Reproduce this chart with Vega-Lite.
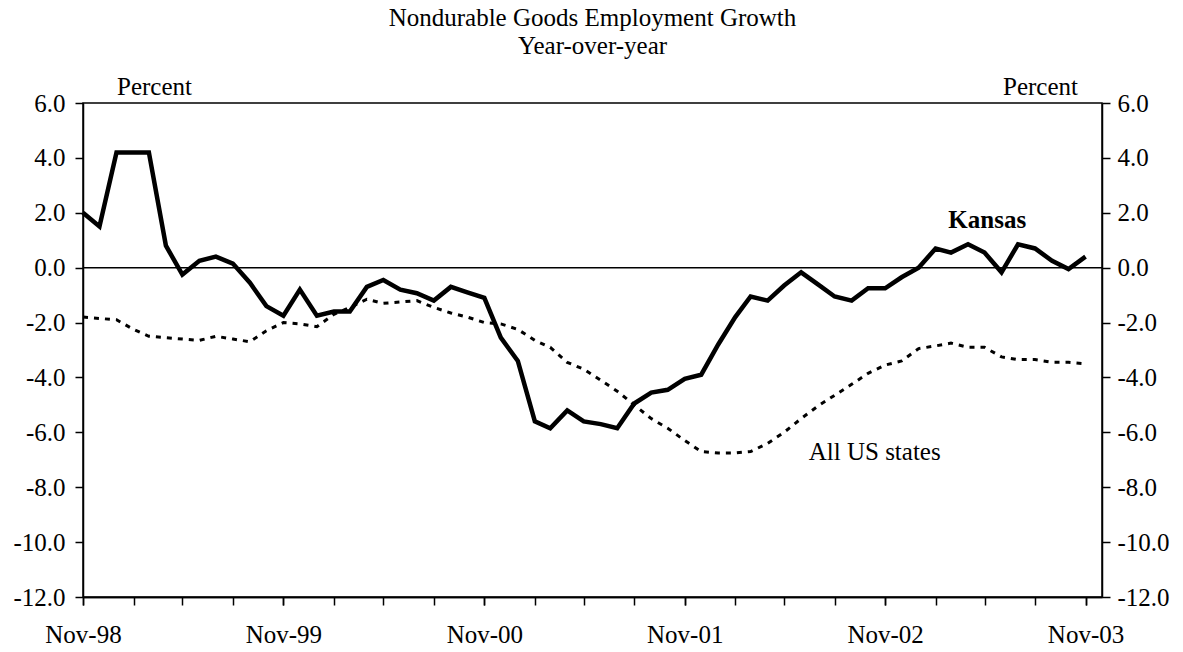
{
  "$schema": "https://vega.github.io/schema/vega-lite/v6.json",
  "width": 1019,
  "height": 494,
  "autosize": {"type": "none"},
  "padding": {"left": 83, "top": 103, "right": 81, "bottom": 55},
  "background": "white",
  "title": {
    "text": "Nondurable Goods Employment Growth",
    "subtitle": "Year-over-year",
    "font": "Liberation Serif",
    "subtitleFont": "Liberation Serif",
    "fontSize": 25,
    "subtitleFontSize": 25,
    "fontWeight": "normal",
    "color": "black",
    "subtitleColor": "black",
    "anchor": "middle",
    "offset": 15,
    "subtitlePadding": 3
  },
  "config": {
    "locale": {
      "number": {"decimal": ".", "thousands": ",", "grouping": [3], "currency": ["$", ""], "minus": "-"}
    },
    "view": {"stroke": "black", "strokeWidth": 1.5},
    "axis": {
      "domainColor": "black",
      "domainWidth": 1.5,
      "tickColor": "black",
      "tickWidth": 1.5,
      "tickSize": 8,
      "grid": false,
      "labelFont": "Liberation Serif",
      "labelFontSize": 25,
      "labelColor": "black",
      "titleFont": "Liberation Serif",
      "titleFontSize": 25,
      "titleFontWeight": "normal",
      "titleColor": "black"
    }
  },
  "datasets": {
    "series": [
      {"month": "1998-11-01", "Kansas": 2.0, "US": -1.8},
      {"month": "1998-12-01", "Kansas": 1.5, "US": -1.85},
      {"month": "1999-01-01", "Kansas": 4.2, "US": -1.9},
      {"month": "1999-02-01", "Kansas": 4.2, "US": -2.25},
      {"month": "1999-03-01", "Kansas": 4.2, "US": -2.5},
      {"month": "1999-04-01", "Kansas": 0.8, "US": -2.55},
      {"month": "1999-05-01", "Kansas": -0.25, "US": -2.6},
      {"month": "1999-06-01", "Kansas": 0.25, "US": -2.65},
      {"month": "1999-07-01", "Kansas": 0.4, "US": -2.5},
      {"month": "1999-08-01", "Kansas": 0.15, "US": -2.6},
      {"month": "1999-09-01", "Kansas": -0.55, "US": -2.7},
      {"month": "1999-10-01", "Kansas": -1.4, "US": -2.3},
      {"month": "1999-11-01", "Kansas": -1.75, "US": -2.0},
      {"month": "1999-12-01", "Kansas": -0.8, "US": -2.05},
      {"month": "2000-01-01", "Kansas": -1.75, "US": -2.15},
      {"month": "2000-02-01", "Kansas": -1.6, "US": -1.7},
      {"month": "2000-03-01", "Kansas": -1.6, "US": -1.45},
      {"month": "2000-04-01", "Kansas": -0.7, "US": -1.15},
      {"month": "2000-05-01", "Kansas": -0.45, "US": -1.3},
      {"month": "2000-06-01", "Kansas": -0.8, "US": -1.25},
      {"month": "2000-07-01", "Kansas": -0.93, "US": -1.2},
      {"month": "2000-08-01", "Kansas": -1.2, "US": -1.45},
      {"month": "2000-09-01", "Kansas": -0.7, "US": -1.65},
      {"month": "2000-10-01", "Kansas": -0.9, "US": -1.8},
      {"month": "2000-11-01", "Kansas": -1.1, "US": -2.0},
      {"month": "2000-12-01", "Kansas": -2.55, "US": -2.05},
      {"month": "2001-01-01", "Kansas": -3.4, "US": -2.25},
      {"month": "2001-02-01", "Kansas": -5.6, "US": -2.65},
      {"month": "2001-03-01", "Kansas": -5.85, "US": -2.9},
      {"month": "2001-04-01", "Kansas": -5.2, "US": -3.45},
      {"month": "2001-05-01", "Kansas": -5.6, "US": -3.7},
      {"month": "2001-06-01", "Kansas": -5.7, "US": -4.1},
      {"month": "2001-07-01", "Kansas": -5.85, "US": -4.5},
      {"month": "2001-08-01", "Kansas": -4.95, "US": -5.0},
      {"month": "2001-09-01", "Kansas": -4.55, "US": -5.5},
      {"month": "2001-10-01", "Kansas": -4.45, "US": -5.85},
      {"month": "2001-11-01", "Kansas": -4.05, "US": -6.3},
      {"month": "2001-12-01", "Kansas": -3.9, "US": -6.7},
      {"month": "2002-01-01", "Kansas": -2.8, "US": -6.75},
      {"month": "2002-02-01", "Kansas": -1.8, "US": -6.75},
      {"month": "2002-03-01", "Kansas": -1.05, "US": -6.7},
      {"month": "2002-04-01", "Kansas": -1.2, "US": -6.4},
      {"month": "2002-05-01", "Kansas": -0.65, "US": -6.0},
      {"month": "2002-06-01", "Kansas": -0.17, "US": -5.5},
      {"month": "2002-07-01", "Kansas": -0.6, "US": -5.05},
      {"month": "2002-08-01", "Kansas": -1.05, "US": -4.65},
      {"month": "2002-09-01", "Kansas": -1.2, "US": -4.25},
      {"month": "2002-10-01", "Kansas": -0.75, "US": -3.85},
      {"month": "2002-11-01", "Kansas": -0.75, "US": -3.55},
      {"month": "2002-12-01", "Kansas": -0.35, "US": -3.4},
      {"month": "2003-01-01", "Kansas": 0.0, "US": -2.95},
      {"month": "2003-02-01", "Kansas": 0.7, "US": -2.85},
      {"month": "2003-03-01", "Kansas": 0.55, "US": -2.75},
      {"month": "2003-04-01", "Kansas": 0.85, "US": -2.9},
      {"month": "2003-05-01", "Kansas": 0.55, "US": -2.9},
      {"month": "2003-06-01", "Kansas": -0.17, "US": -3.25},
      {"month": "2003-07-01", "Kansas": 0.85, "US": -3.35},
      {"month": "2003-08-01", "Kansas": 0.7, "US": -3.35},
      {"month": "2003-09-01", "Kansas": 0.25, "US": -3.45},
      {"month": "2003-10-01", "Kansas": -0.05, "US": -3.45},
      {"month": "2003-11-01", "Kansas": 0.4, "US": -3.5}
    ],
    "single": [{}]
  },
  "resolve": {"axis": {"x": "independent", "y": "independent"}},
  "layer": [
    {
      "data": {"name": "single"},
      "mark": {"type": "rule", "color": "black", "strokeWidth": 1.5},
      "encoding": {
        "y": {"datum": 0, "type": "quantitative", "axis": null}
      }
    },
    {
      "data": {"name": "series"},
      "mark": {"type": "line", "color": "black", "strokeWidth": 3, "strokeDash": [5, 6]},
      "encoding": {
        "x": {
          "field": "month",
          "type": "temporal",
          "axis": {
            "orient": "bottom",
            "values": [
              {"year": 1998, "month": 11, "date": 1, "utc": true},
              {"year": 1999, "month": 2, "date": 1, "utc": true},
              {"year": 1999, "month": 5, "date": 1, "utc": true},
              {"year": 1999, "month": 8, "date": 1, "utc": true},
              {"year": 1999, "month": 11, "date": 1, "utc": true},
              {"year": 2000, "month": 2, "date": 1, "utc": true},
              {"year": 2000, "month": 5, "date": 1, "utc": true},
              {"year": 2000, "month": 8, "date": 1, "utc": true},
              {"year": 2000, "month": 11, "date": 1, "utc": true},
              {"year": 2001, "month": 2, "date": 1, "utc": true},
              {"year": 2001, "month": 5, "date": 1, "utc": true},
              {"year": 2001, "month": 8, "date": 1, "utc": true},
              {"year": 2001, "month": 11, "date": 1, "utc": true},
              {"year": 2002, "month": 2, "date": 1, "utc": true},
              {"year": 2002, "month": 5, "date": 1, "utc": true},
              {"year": 2002, "month": 8, "date": 1, "utc": true},
              {"year": 2002, "month": 11, "date": 1, "utc": true},
              {"year": 2003, "month": 2, "date": 1, "utc": true},
              {"year": 2003, "month": 5, "date": 1, "utc": true},
              {"year": 2003, "month": 8, "date": 1, "utc": true},
              {"year": 2003, "month": 11, "date": 1, "utc": true}
            ],
            "labels": false,
            "title": null
          }
        },
        "y": {
          "field": "US",
          "type": "quantitative",
          "scale": {"domain": [-12, 6], "nice": false, "zero": false},
          "axis": {
            "orient": "right",
            "values": [-12, -10, -8, -6, -4, -2, 0, 2, 4, 6],
            "format": ".1f",
            "labelPadding": 7,
            "title": "Percent",
            "titleAngle": 0,
            "titleX": -62,
            "titleY": -9,
            "titleAlign": "center",
            "titleBaseline": "alphabetic"
          }
        }
      }
    },
    {
      "data": {"name": "series"},
      "mark": {"type": "line", "color": "black", "strokeWidth": 4.5},
      "encoding": {
        "x": {
          "field": "month",
          "type": "temporal",
          "scale": {
            "type": "utc",
            "domain": [
              {"year": 1998, "month": 11, "date": 1, "utc": true},
              {"year": 2003, "month": 12, "date": 1, "utc": true}
            ]
          },
          "axis": {
            "orient": "bottom",
            "values": [
              {"year": 1998, "month": 11, "date": 1, "utc": true},
              {"year": 1999, "month": 11, "date": 1, "utc": true},
              {"year": 2000, "month": 11, "date": 1, "utc": true},
              {"year": 2001, "month": 11, "date": 1, "utc": true},
              {"year": 2002, "month": 11, "date": 1, "utc": true},
              {"year": 2003, "month": 11, "date": 1, "utc": true}
            ],
            "format": "%b-%y",
            "labelPadding": 17,
            "labelOverlap": false,
            "labelFlush": false,
            "title": null
          }
        },
        "y": {
          "field": "Kansas",
          "type": "quantitative",
          "scale": {"domain": [-12, 6], "nice": false, "zero": false},
          "axis": {
            "orient": "left",
            "values": [-12, -10, -8, -6, -4, -2, 0, 2, 4, 6],
            "format": ".1f",
            "labelPadding": 10,
            "title": "Percent",
            "titleAngle": 0,
            "titleX": 71,
            "titleY": -9,
            "titleAlign": "center",
            "titleBaseline": "alphabetic"
          }
        }
      }
    },
    {
      "data": {"name": "single"},
      "mark": {"type": "text", "text": "Kansas", "font": "Liberation Serif", "fontSize": 25, "fontWeight": "bold", "color": "black", "align": "center", "baseline": "alphabetic"},
      "encoding": {
        "x": {"datum": {"year": 2003, "month": 5, "date": 6, "utc": true}, "type": "temporal", "axis": null},
        "y": {"datum": 1.43, "type": "quantitative", "axis": null}
      }
    },
    {
      "data": {"name": "single"},
      "mark": {"type": "text", "text": "All US states", "font": "Liberation Serif", "fontSize": 25, "color": "black", "align": "center", "baseline": "alphabetic"},
      "encoding": {
        "x": {"datum": {"year": 2002, "month": 10, "date": 13, "utc": true}, "type": "temporal", "axis": null},
        "y": {"datum": -6.99, "type": "quantitative", "axis": null}
      }
    }
  ]
}
